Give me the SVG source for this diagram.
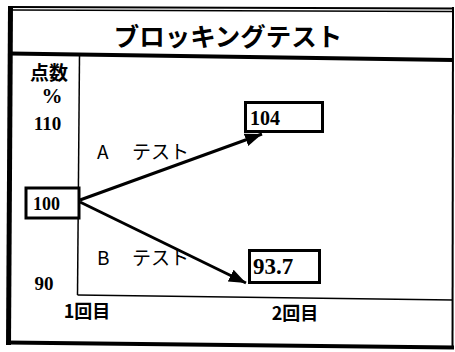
<svg xmlns="http://www.w3.org/2000/svg" width="455" height="352" viewBox="0 0 455 352">
<style>
.frame{stroke:#000;fill:none}
.jp{font-family:"Noto Sans CJK JP","Noto Sans",sans-serif;fill:#000}
.num{font-family:"Liberation Serif","DejaVu Serif",serif;font-weight:bold;fill:#000}
.lbl{font-family:"Noto Sans CJK JP","Noto Sans",sans-serif;font-size:19px;fill:#000}
.box{fill:#fff;stroke:#000;stroke-width:3}
.conn{stroke:#000;stroke-width:3;fill:none}
</style>
<defs>
<marker id="ah" markerUnits="userSpaceOnUse" markerWidth="18" markerHeight="14" refX="17" refY="6.5" orient="auto">
<path d="M0,0 L17,6.5 L0,13 Z" fill="#000"/>
</marker>
</defs>
<rect width="455" height="352" fill="#fff"/>
<g id="frame">
<line class="frame" x1="10" y1="7" x2="453" y2="8.5" stroke-width="2"/>
<line class="frame" x1="12" y1="10" x2="453" y2="11.5" stroke-width="1.5"/>
<line class="frame" x1="10.5" y1="6" x2="8.5" y2="345" stroke-width="5"/>
<line class="frame" x1="453" y1="7" x2="452.5" y2="349" stroke-width="2"/>
<line class="frame" x1="7" y1="342.5" x2="454" y2="347.5" stroke-width="4"/>
<line class="frame" x1="10" y1="53.5" x2="453" y2="60" stroke-width="4"/>
<line class="frame" x1="79.5" y1="55" x2="77.5" y2="295" stroke-width="1.5"/>
<line class="frame" x1="77.5" y1="295" x2="453" y2="300" stroke-width="1.5"/>
</g>
<g id="title">
<text class="jp" x="228" y="45.5" font-size="25.5" font-weight="bold" text-anchor="middle">ブロッキングテスト</text>
</g>
<g id="y-axis">
<text class="jp" x="49" y="80" font-size="19" font-weight="bold" text-anchor="middle">点数</text>
<text class="num" x="52" y="103" font-size="21" text-anchor="middle">%</text>
<text class="num" x="47.5" y="130" font-size="19" text-anchor="middle">110</text>
<text class="num" x="44" y="290" font-size="19" text-anchor="middle">90</text>
</g>
<g id="x-axis">
<text class="jp" x="87" y="318" font-size="18" font-weight="bold" text-anchor="middle">1回目</text>
<text class="jp" x="295" y="320" font-size="18" font-weight="bold" text-anchor="middle">2回目</text>
</g>
<g id="connectors">
<line class="conn" x1="80" y1="200" x2="262" y2="134" marker-end="url(#ah)"/>
<line class="conn" x1="80" y1="202" x2="246" y2="283" marker-end="url(#ah)"/>
</g>
<g id="node-100">
<rect class="box" x="26" y="188" width="53" height="30"/>
<text class="num" x="33" y="210" font-size="18">100</text>
</g>
<g id="node-104">
<rect class="box" x="245.5" y="102.5" width="77" height="29"/>
<text class="num" x="250" y="125" font-size="20">104</text>
</g>
<g id="node-93-7">
<rect class="box" x="249.5" y="250.5" width="70" height="32"/>
<text class="num" x="253" y="274" font-size="23">93.7</text>
</g>
<g id="labels">
<text class="lbl" x="97" y="159">A <tspan x="132">テスト</tspan></text>
<text class="lbl" x="97" y="265">B <tspan x="132">テスト</tspan></text>
</g>
</svg>
